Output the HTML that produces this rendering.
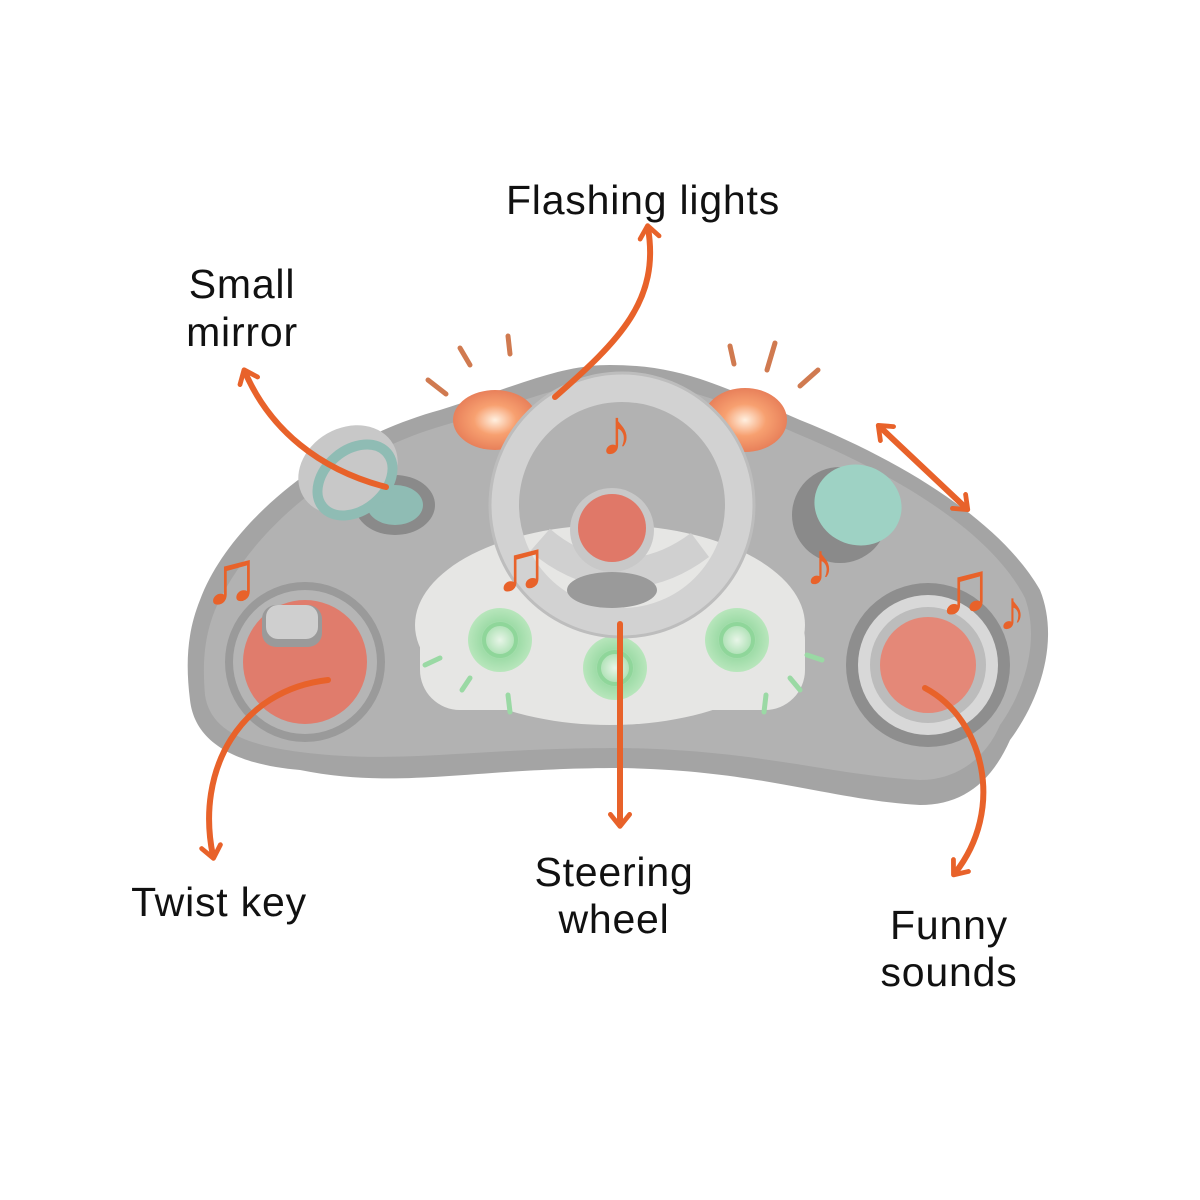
<!DOCTYPE html>
<html><head><meta charset="utf-8"><style>
html,body{margin:0;padding:0;background:#fff;}
svg{display:block;}
text{font-family:"Liberation Sans",sans-serif;font-size:41px;fill:#111;letter-spacing:0.8px;}
</style></head><body>
<svg width="1200" height="1200" viewBox="0 0 1200 1200" xmlns="http://www.w3.org/2000/svg">
<defs>
<radialGradient id="og" cx="50%" cy="50%" r="50%"><stop offset="0" stop-color="#fff0e0"/><stop offset="0.5" stop-color="#f7a070"/><stop offset="1" stop-color="#e8805a"/></radialGradient>
<radialGradient id="gg" cx="50%" cy="50%" r="50%"><stop offset="0" stop-color="#e8f5e8"/><stop offset="0.6" stop-color="#9fdca8"/><stop offset="1" stop-color="#b8e6bc"/></radialGradient>
<marker id="ah" viewBox="0 0 10 10" refX="5" refY="5" markerWidth="4" markerHeight="4" orient="auto-start-reverse"><path d="M1,1 L6,5 L1,9" fill="none" stroke="#e8622a" stroke-width="2" stroke-linecap="round" stroke-linejoin="round"/></marker>
</defs>
<path d="M200,600 C230,520 330,440 440,410 C520,385 560,365 610,365 C680,365 720,385 800,420 C900,460 1000,520 1040,590 C1060,640 1040,700 1010,740 C990,785 960,805 920,805 C830,800 760,770 620,768 C470,768 400,790 300,770 C240,765 195,745 190,700 C185,660 188,630 200,600 Z" fill="#a4a4a4"/>
<path d="M215,610 C250,530 340,455 445,425 C530,400 565,382 612,382 C680,382 720,400 800,435 C895,475 990,530 1025,598 C1040,640 1025,690 1000,725 C985,760 955,780 920,780 C830,775 760,750 620,748 C470,748 400,765 300,752 C245,745 210,730 205,695 C202,660 205,635 215,610 Z" fill="#b2b2b2"/>
<ellipse cx="610" cy="625" rx="195" ry="100" fill="#e6e6e4"/>
<rect x="420" y="600" width="385" height="110" rx="40" fill="#e6e6e4"/>
<ellipse cx="495" cy="420" rx="42" ry="30" fill="url(#og)"/>
<ellipse cx="745" cy="420" rx="42" ry="32" fill="url(#og)"/>
<circle cx="500" cy="640" r="32" fill="url(#gg)"/><circle cx="500" cy="640" r="16" fill="none" stroke="#8fd69a" stroke-width="4"/>
<circle cx="615" cy="668" r="32" fill="url(#gg)"/><circle cx="615" cy="668" r="16" fill="none" stroke="#8fd69a" stroke-width="4"/>
<circle cx="737" cy="640" r="32" fill="url(#gg)"/><circle cx="737" cy="640" r="16" fill="none" stroke="#8fd69a" stroke-width="4"/>
<circle cx="622" cy="505" r="118" fill="none" stroke="#d2d2d2" stroke-width="30"/>
<circle cx="622" cy="505" r="132" fill="none" stroke="#bdbdbd" stroke-width="3"/>
<path d="M540,540 C580,575 640,590 700,545" fill="none" stroke="#d0d0d0" stroke-width="30"/>
<ellipse cx="612" cy="590" rx="45" ry="18" fill="#9a9a9a"/>
<circle cx="612" cy="530" r="42" fill="#c8c8c8"/>
<circle cx="612" cy="528" r="34" fill="#e07868"/>
<ellipse cx="395" cy="505" rx="40" ry="30" fill="#8a8a8a"/>
<ellipse cx="395" cy="505" rx="28" ry="20" fill="#8fbcb4"/>
<ellipse cx="348" cy="470" rx="52" ry="42" fill="#c8c8c8" transform="rotate(-30 348 470)"/>
<ellipse cx="355" cy="480" rx="42" ry="30" fill="none" stroke="#8fbcb4" stroke-width="10" transform="rotate(-40 355 480)"/>
<ellipse cx="840" cy="515" rx="48" ry="48" fill="#8a8a8a"/>
<ellipse cx="858" cy="505" rx="44" ry="40" fill="#9ed2c4" transform="rotate(20 858 505)"/>
<circle cx="305" cy="662" r="80" fill="#9a9a9a"/>
<circle cx="305" cy="662" r="72" fill="#b5b5b5"/>
<circle cx="305" cy="662" r="62" fill="#e07c6c"/>
<rect x="262" y="605" width="60" height="42" rx="14" fill="#9a9a9a"/>
<rect x="266" y="605" width="52" height="34" rx="12" fill="#cfcfcf"/>
<circle cx="928" cy="665" r="82" fill="#8e8e8e"/>
<circle cx="928" cy="665" r="70" fill="#d8d8d8"/>
<circle cx="928" cy="665" r="58" fill="#bcbcbc"/>
<circle cx="928" cy="665" r="48" fill="#e48878"/>
<g stroke="#d07a50" stroke-width="5" stroke-linecap="round">
<line x1="428" y1="380" x2="446" y2="394"/><line x1="460" y1="348" x2="470" y2="365"/><line x1="508" y1="336" x2="510" y2="354"/>
<line x1="730" y1="346" x2="734" y2="364"/><line x1="775" y1="343" x2="767" y2="370"/><line x1="818" y1="370" x2="800" y2="386"/>
</g>
<g stroke="#9ad9a4" stroke-width="5" stroke-linecap="round">
<line x1="425" y1="665" x2="440" y2="658"/><line x1="462" y1="690" x2="470" y2="678"/><line x1="510" y1="712" x2="508" y2="695"/>
<line x1="764" y1="712" x2="766" y2="695"/><line x1="800" y1="690" x2="790" y2="678"/><line x1="822" y1="660" x2="807" y2="655"/>
</g>
<g font-family="DejaVu Sans,sans-serif">
<text x="203" y="603" style="font-size:76px;fill:#e8622a;letter-spacing:0">♫</text>
<text x="600" y="455" style="font-size:66px;fill:#e8622a;letter-spacing:0">♪</text>
<text x="494" y="590" style="font-size:72px;fill:#e8622a;letter-spacing:0">♫</text>
<text x="805" y="585" style="font-size:60px;fill:#e8622a;letter-spacing:0">♪</text>
<text x="937" y="613" style="font-size:74px;fill:#e8622a;letter-spacing:0">♫</text>
<text x="998" y="630" style="font-size:56px;fill:#e8622a;letter-spacing:0">♪</text>
</g>
<g fill="none" stroke="#e8622a" stroke-width="6" stroke-linecap="round">
<path d="M555,397 C620,340 660,300 648,228" marker-end="url(#ah)"/>
<path d="M386,487 C320,470 270,430 245,372" marker-end="url(#ah)"/>
<path d="M328,680 C240,690 195,770 213,856" marker-end="url(#ah)"/>
<path d="M620,624 L620,824" marker-end="url(#ah)"/>
<path d="M925,688 C985,720 1005,810 955,873" marker-end="url(#ah)"/>
<path d="M880,427 L966,508" marker-start="url(#ah)" marker-end="url(#ah)"/>
</g>
<text x="643" y="214" text-anchor="middle">Flashing lights</text>
<text x="242" y="298" text-anchor="middle">Small</text>
<text x="242" y="346" text-anchor="middle">mirror</text>
<text x="219" y="916" text-anchor="middle">Twist key</text>
<text x="614" y="886" text-anchor="middle">Steering</text>
<text x="614" y="933" text-anchor="middle">wheel</text>
<text x="949" y="939" text-anchor="middle">Funny</text>
<text x="949" y="986" text-anchor="middle">sounds</text>
</svg>
</body></html>
